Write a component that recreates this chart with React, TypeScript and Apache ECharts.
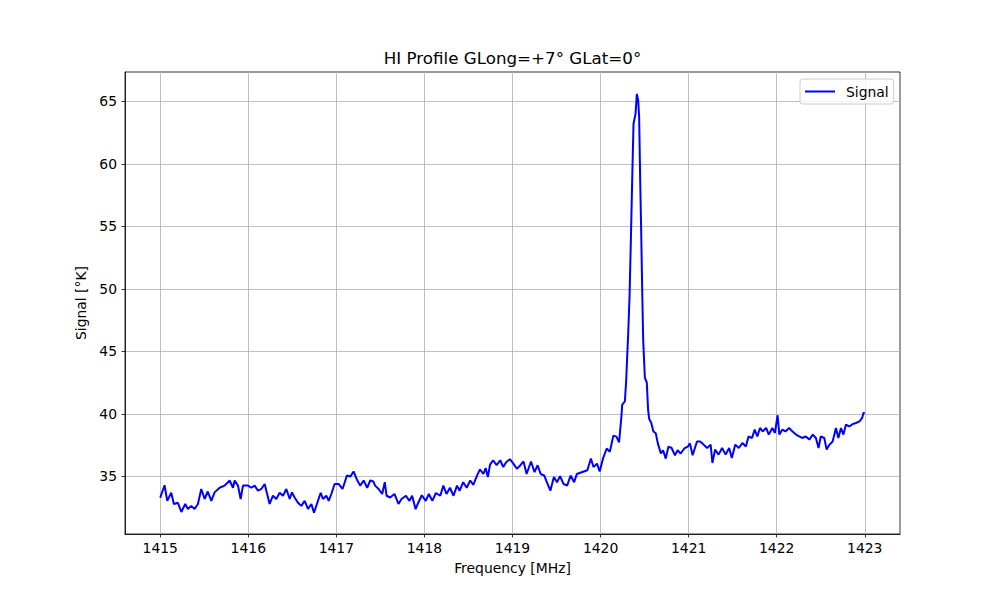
import { useEffect, useRef } from "react";
import * as echarts from "echarts";

const FREQ_MHZ: number[] = [
  1415.000, 1415.049, 1415.080, 1415.125, 1415.155, 1415.200, 1415.240, 1415.284, 1415.314, 1415.352,
  1415.390, 1415.428, 1415.466, 1415.504, 1415.540, 1415.580, 1415.617, 1415.674, 1415.731, 1415.788,
  1415.826, 1415.845, 1415.883, 1415.913, 1415.940, 1415.996, 1416.034, 1416.072, 1416.110, 1416.148,
  1416.186, 1416.242, 1416.280, 1416.318, 1416.356, 1416.394, 1416.432, 1416.470, 1416.496, 1416.526,
  1416.564, 1416.602, 1416.640, 1416.678, 1416.716, 1416.746, 1416.784, 1416.822, 1416.848, 1416.886,
  1416.913, 1416.943, 1416.980, 1417.025, 1417.070, 1417.120, 1417.160, 1417.195, 1417.230, 1417.270,
  1417.310, 1417.350, 1417.385, 1417.420, 1417.440, 1417.480, 1417.520, 1417.550, 1417.570, 1417.610,
  1417.660, 1417.705, 1417.740, 1417.790, 1417.830, 1417.860, 1417.900, 1417.930, 1417.970, 1418.015,
  1418.050, 1418.090, 1418.130, 1418.180, 1418.215, 1418.250, 1418.290, 1418.330, 1418.370, 1418.400,
  1418.440, 1418.480, 1418.520, 1418.555, 1418.590, 1418.630, 1418.670, 1418.695, 1418.720, 1418.745,
  1418.780, 1418.820, 1418.860, 1418.895, 1418.930, 1418.970, 1419.010, 1419.050, 1419.090, 1419.125,
  1419.160, 1419.210, 1419.250, 1419.285, 1419.320, 1419.360, 1419.390, 1419.430, 1419.470, 1419.505,
  1419.540, 1419.580, 1419.620, 1419.660, 1419.700, 1419.730, 1419.770, 1419.810, 1419.850, 1419.890,
  1419.920, 1419.960, 1419.990, 1420.030, 1420.070, 1420.105, 1420.145, 1420.180, 1420.210, 1420.235,
  1420.246, 1420.276, 1420.291, 1420.314, 1420.329, 1420.344, 1420.359, 1420.374, 1420.397, 1420.412,
  1420.427, 1420.438, 1420.450, 1420.461, 1420.472, 1420.484, 1420.503, 1420.525, 1420.540, 1420.552,
  1420.575, 1420.600, 1420.627, 1420.650, 1420.685, 1420.710, 1420.740, 1420.770, 1420.805, 1420.845,
  1420.875, 1420.910, 1420.950, 1420.990, 1421.015, 1421.045, 1421.095, 1421.130, 1421.170, 1421.210,
  1421.250, 1421.270, 1421.300, 1421.340, 1421.380, 1421.420, 1421.460, 1421.490, 1421.530, 1421.570,
  1421.610, 1421.650, 1421.680, 1421.720, 1421.750, 1421.780, 1421.810, 1421.840, 1421.880, 1421.910,
  1421.950, 1421.980, 1422.010, 1422.030, 1422.065, 1422.100, 1422.140, 1422.180, 1422.220, 1422.255,
  1422.290, 1422.330, 1422.370, 1422.410, 1422.445, 1422.475, 1422.500, 1422.540, 1422.567, 1422.600,
  1422.635, 1422.673, 1422.700, 1422.730, 1422.757, 1422.787, 1422.825, 1422.863, 1422.900, 1422.940,
  1422.970, 1422.985, 1423.000,
];

const SIGNAL_K: number[] = [
  33.3, 34.3, 33.05, 33.7, 32.8, 32.9, 32.16, 32.8, 32.4, 32.65,
  32.4, 32.8, 34.0, 33.2, 33.8, 33.05, 33.73, 34.1, 34.27, 34.68,
  34.1, 34.68, 34.27, 33.2, 34.27, 34.27, 34.1, 34.27, 33.86, 34.0,
  34.4, 32.8, 33.46, 33.2, 33.7, 33.46, 34.0, 33.2, 33.73, 33.32,
  32.9, 32.65, 33.05, 32.4, 32.8, 32.1, 32.9, 33.7, 33.2, 33.46,
  33.05, 33.6, 34.4, 34.4, 34.0, 35.08, 35.0, 35.4, 34.8, 34.27,
  34.68, 34.1, 34.68, 34.6, 34.27, 34.0, 33.6, 34.54, 33.46, 33.32,
  33.6, 32.8, 33.2, 33.46, 33.05, 33.46, 32.38, 32.9, 33.5, 33.05,
  33.6, 33.05, 33.68, 33.46, 34.27, 33.6, 34.1, 33.46, 34.27, 33.86,
  34.54, 34.1, 34.68, 34.33, 34.95, 35.57, 35.2, 35.68, 34.95, 35.95,
  36.3, 35.9, 36.3, 35.76, 36.16, 36.38, 36.03, 35.62, 35.9, 36.2,
  35.2, 36.2, 35.35, 35.9, 35.2, 35.08, 34.54, 33.86, 34.95, 34.54,
  35.03, 34.4, 34.27, 35.08, 34.54, 35.2, 35.3, 35.4, 35.5, 36.43,
  35.76, 36.03, 35.4, 36.49, 37.24, 36.97, 38.27, 38.19, 37.73, 39.68,
  40.75, 41.0, 42.7, 46.5, 49.4, 53.9, 58.7, 63.2, 64.0, 65.6,
  65.1, 63.75, 58.7, 54.7, 50.2, 45.9, 42.9, 42.5, 40.3, 39.6,
  39.3, 38.6, 38.46, 37.65, 36.84, 37.1, 36.43, 37.38, 37.3, 36.7,
  37.1, 36.84, 37.24, 37.38, 37.65, 36.7, 37.8, 37.8, 37.55, 37.28,
  37.55, 36.08, 37.15, 36.75, 37.28, 36.75, 37.28, 36.48, 37.55, 37.28,
  37.68, 37.4, 38.2, 38.08, 38.75, 38.2, 38.88, 38.6, 38.88, 38.35,
  38.88, 38.48, 39.9, 38.35, 38.75, 38.6, 38.88, 38.6, 38.35, 38.2,
  38.08, 38.2, 37.95, 38.35, 38.08, 37.28, 38.2, 38.08, 37.15, 37.55,
  37.8, 38.88, 38.08, 38.88, 38.35, 39.15, 39.0, 39.2, 39.28, 39.41,
  39.68, 40.08, 40.1,
];

const X_TICKS = [1415, 1416, 1417, 1418, 1419, 1420, 1421, 1422, 1423];
const Y_TICKS = [35, 40, 45, 50, 55, 60, 65];

const FONT = "DejaVu Sans";

export default function App() {
  const ref = useRef<HTMLDivElement>(null);

  useEffect(() => {
    const chart = echarts.init(ref.current!, null, { renderer: "svg" });
    const data = FREQ_MHZ.map((f, i) => [f, SIGNAL_K[i]]);
    chart.setOption({
      animation: false,
      backgroundColor: "#ffffff",
      textStyle: { fontFamily: FONT },
      title: {
        text: "HI Profile GLong=+7° GLat=0°",
        left: 512.5,
        top: 49,
        textAlign: "center",
        padding: 0,
        textStyle: { fontFamily: FONT, fontSize: 16.7, fontWeight: "normal", color: "#000" },
      },
      legend: {
        left: 800,
        top: 79,
        orient: "vertical",
        padding: [5, 5, 5, 5],
        itemWidth: 30,
        itemHeight: 2,
        icon: "rect",
        backgroundColor: "rgba(255,255,255,0.8)",
        borderColor: "#cccccc",
        borderWidth: 1,
        borderRadius: 3,
        textStyle: {
          fontFamily: FONT,
          fontSize: 13.9,
          color: "#000",
          lineHeight: 15,
          padding: [0, 0, 0, 6],
        },
        data: [{ name: "Signal", icon: "rect", itemStyle: { color: "#0000ff" } }],
      },
      grid: {
        left: 125,
        right: 100,
        top: 72,
        bottom: 66,
        containLabel: false,
        outerBoundsMode: "none",
        show: true,
        borderColor: "#000",
        borderWidth: 0.8,
      },
      xAxis: {
        type: "value",
        min: 1414.6,
        max: 1423.4,
        splitNumber: 9,
        name: "Frequency [MHz]",
        nameLocation: "middle",
        nameGap: 27,
        nameTextStyle: { fontFamily: FONT, fontSize: 13.9, color: "#000" },
        axisLine: { show: true, onZero: false, lineStyle: { color: "#000", width: 0.8 } },
        axisTick: { show: true, length: 3.5, customValues: X_TICKS, lineStyle: { color: "#000", width: 0.8 } },
        axisLabel: {
          customValues: X_TICKS,
          margin: 7,
          fontFamily: FONT,
          fontSize: 13.9,
          color: "#000",
          formatter: (v: number) => String(v),
        },
        splitLine: { show: true, lineStyle: { color: "#b0b0b0", width: 0.8 } },
      },
      yAxis: {
        type: "value",
        min: 30.4,
        max: 67.35,
        name: "Signal [°K]",
        nameLocation: "middle",
        nameGap: 33,
        nameTextStyle: { fontFamily: FONT, fontSize: 13.9, color: "#000" },
        axisLine: { show: true, onZero: false, lineStyle: { color: "#000", width: 0.8 } },
        axisTick: { show: true, length: 3.5, customValues: Y_TICKS, lineStyle: { color: "#000", width: 0.8 } },
        axisLabel: {
          customValues: Y_TICKS,
          margin: 8,
          fontFamily: FONT,
          fontSize: 13.9,
          color: "#000",
          formatter: (v: number) => String(v),
        },
        splitLine: { show: true, lineStyle: { color: "#b0b0b0", width: 0.8 } },
      },
      series: [
        {
          name: "Signal",
          type: "line",
          data,
          symbol: "none",
          showSymbol: false,
          clip: true,
          lineStyle: { color: "#0000ff", width: 2 },
          itemStyle: { color: "#0000ff" },
        },
      ],
    });
    return () => chart.dispose();
  }, []);

  return (
    <div
      ref={ref}
      style={{ position: "fixed", left: 0, top: 0, width: 1000, height: 600 }}
    />
  );
}
